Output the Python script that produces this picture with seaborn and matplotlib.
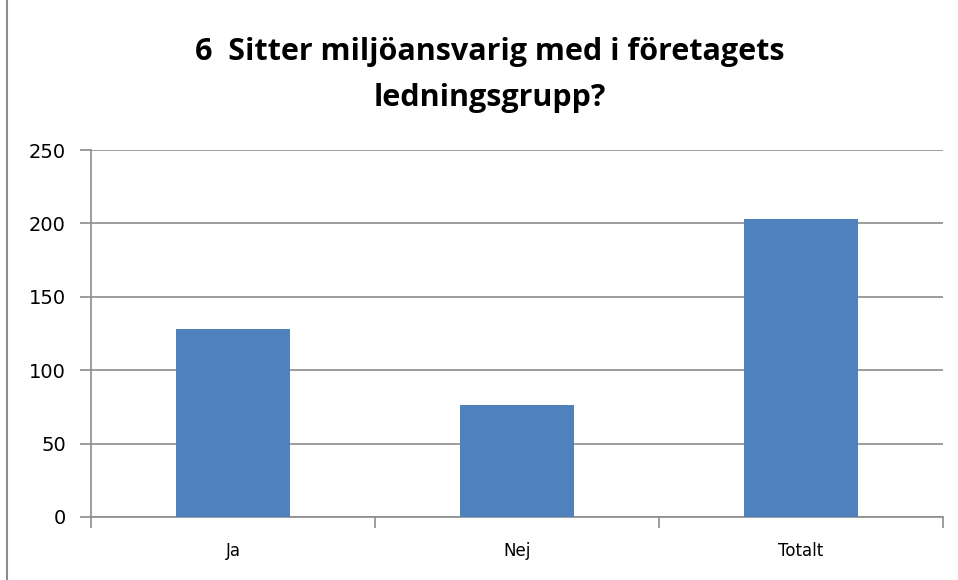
import matplotlib
matplotlib.use("Agg")
import matplotlib.pyplot as plt
import seaborn as sns
import pandas as pd

# data
categories = ["Ja", "Nej", "Totalt"]
values = [128, 76, 203]
y_ticks = [0, 50, 100, 150, 200, 250]

df = pd.DataFrame({"svar": categories, "antal": values})

sns.set_style("white")
plt.rcParams['font.family'] = ['DejaVu Sans']

fig = plt.figure(figsize=(9.58, 5.8), dpi=100)
ax = fig.add_axes([91 / 958, 1 - 517 / 580, (943 - 91) / 958, (517 - 150) / 580])

sns.barplot(data=df, x="svar", y="antal", color="#4f81bd", saturation=1,
            width=0.4, linewidth=0, ax=ax, zorder=3)

ax.set_ylim(0, 250)
ax.set_xlim(-0.5, 2.5)
ax.set_yticks(y_ticks)
ax.set_yticklabels([str(t) for t in y_ticks], fontsize=14, color="black")
for lbl in ax.get_xticklabels():
    lbl.set_color("black")
ax.set_xlabel("")
ax.set_ylabel("")
ax.grid(axis="y", color="#8c8c8c", linewidth=1.2, zorder=0)
ax.tick_params(axis="y", length=8, color="#8c8c8c", width=1.2, pad=10, left=True)
ax.tick_params(axis="x", length=0, pad=18, labelsize=12)

# x ticks at category boundaries
ax.set_xticks([-0.5, 0.5, 1.5, 2.5], minor=True)
ax.tick_params(axis="x", which="minor", length=8, color="#8c8c8c", width=1.2, bottom=True)

for side in ["top", "right"]:
    ax.spines[side].set_visible(False)
for side in ["left", "bottom"]:
    ax.spines[side].set_color("#8c8c8c")
    ax.spines[side].set_linewidth(1.2)

fig.text(490 / 958, 1 - 75 / 580, "6  Sitter miljöansvarig med i företagets\nledningsgrupp?",
         ha="center", va="center", fontsize=22, fontweight="bold", color="black",
         family=["Open Sans", "DejaVu Sans"], linespacing=1.7)

# chart border on the left
fig.add_artist(plt.Line2D([7 / 958, 7 / 958], [0, 1], color="#8c8c8c", linewidth=1.5,
                          transform=fig.transFigure))

fig.savefig("out.png", dpi=100)
